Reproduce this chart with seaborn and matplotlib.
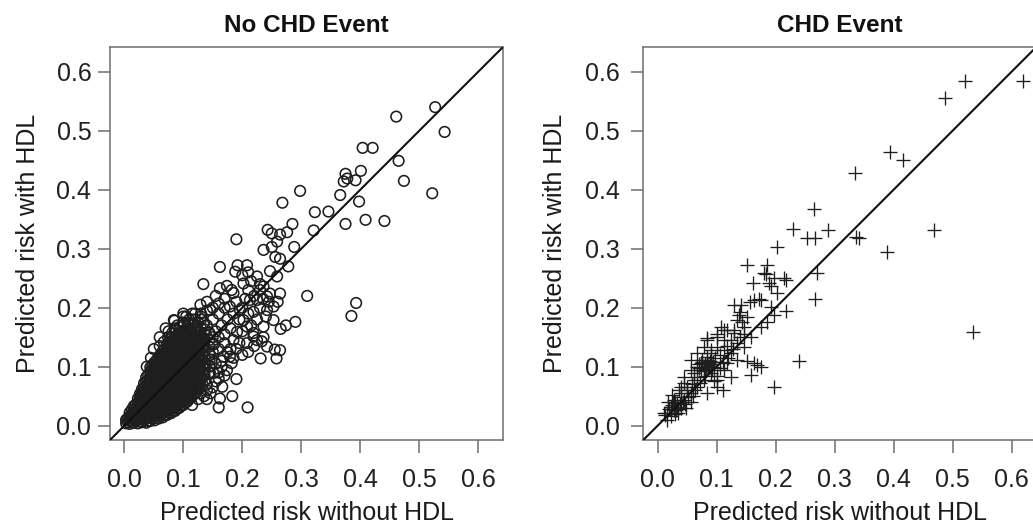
import matplotlib
matplotlib.use("Agg")
import matplotlib.pyplot as plt
import pandas as pd
import seaborn as sns

# axis ticks shared by both panels
tick_values = [0.0, 0.1, 0.2, 0.3, 0.4, 0.5, 0.6]
tick_labels = ["0.0", "0.1", "0.2", "0.3", "0.4", "0.5", "0.6"]
panel_titles = ["No CHD Event", "CHD Event"]
x_label = "Predicted risk without HDL"
y_label = "Predicted risk with HDL"

# No CHD event: the individually visible circles (risk without HDL, risk with HDL)
no_chd_x = [
    0.543, 0.527, 0.461, 0.404, 0.421, 0.465, 0.474, 0.522, 0.401, 0.375, 0.378, 0.372, 0.392,
    0.366, 0.398, 0.298, 0.268, 0.323, 0.346, 0.409, 0.441, 0.375, 0.321, 0.285, 0.243, 0.250,
    0.264, 0.276, 0.259, 0.236, 0.250, 0.288, 0.190, 0.256, 0.264, 0.278, 0.162, 0.208, 0.192,
    0.225, 0.247, 0.259, 0.134, 0.174, 0.236, 0.247, 0.264, 0.310, 0.393, 0.385, 0.253, 0.290,
    0.274, 0.265, 0.233, 0.255, 0.258, 0.231, 0.208, 0.219, 0.190, 0.183, 0.209, 0.160, 0.162,
    0.166, 0.160, 0.179, 0.084, 0.100, 0.191, 0.202, 0.219, 0.225, 0.188, 0.202, 0.162, 0.182,
    0.230, 0.242, 0.129, 0.146, 0.160, 0.179, 0.196, 0.213, 0.242, 0.208, 0.219, 0.236, 0.253,
    0.185, 0.225, 0.242, 0.236, 0.264, 0.168, 0.182, 0.146, 0.129, 0.151, 0.174,
    0.120, 0.130, 0.140, 0.150, 0.155, 0.165, 0.170, 0.175, 0.180, 0.185, 0.195, 0.200, 0.205,
    0.210, 0.170, 0.160, 0.150, 0.140, 0.155, 0.170, 0.185, 0.190, 0.210, 0.220, 0.235, 0.230,
    0.215, 0.200, 0.195, 0.180, 0.170, 0.160, 0.150, 0.145, 0.155, 0.165, 0.170, 0.155, 0.145,
    0.140, 0.130, 0.135, 0.110, 0.125, 0.135, 0.145, 0.160, 0.175, 0.185, 0.190, 0.200, 0.210,
    0.220, 0.225, 0.240, 0.245, 0.260, 0.230, 0.215, 0.200, 0.210, 0.090, 0.100, 0.105, 0.115,
    0.120, 0.130, 0.095, 0.110, 0.125, 0.075, 0.085, 0.140, 0.150, 0.160, 0.165, 0.135, 0.125,
    0.115, 0.130, 0.140,
    0.060, 0.067, 0.074, 0.081, 0.088, 0.095, 0.102, 0.109, 0.116, 0.123, 0.130, 0.137, 0.144,
    0.150, 0.152, 0.150, 0.148, 0.145, 0.070, 0.085, 0.100, 0.115, 0.130, 0.140, 0.060, 0.050,
    0.045, 0.038,
]
no_chd_y = [
    0.498, 0.540, 0.524, 0.471, 0.471, 0.449, 0.415, 0.394, 0.432, 0.427, 0.419, 0.414, 0.416,
    0.391, 0.380, 0.398, 0.378, 0.362, 0.363, 0.349, 0.347, 0.342, 0.331, 0.342, 0.332, 0.326,
    0.324, 0.328, 0.312, 0.298, 0.303, 0.303, 0.316, 0.286, 0.283, 0.270, 0.269, 0.272, 0.272,
    0.253, 0.262, 0.253, 0.240, 0.237, 0.236, 0.224, 0.224, 0.220, 0.208, 0.186, 0.202, 0.176,
    0.170, 0.164, 0.143, 0.129, 0.114, 0.114, 0.140, 0.151, 0.079, 0.050, 0.031, 0.031, 0.046,
    0.066, 0.080, 0.117, 0.179, 0.190, 0.159, 0.179, 0.193, 0.213, 0.261, 0.241, 0.233, 0.230,
    0.230, 0.219, 0.205, 0.196, 0.207, 0.202, 0.196, 0.213, 0.196, 0.168, 0.157, 0.168, 0.179,
    0.145, 0.145, 0.134, 0.150, 0.128, 0.117, 0.106, 0.055, 0.066, 0.089, 0.094,
    0.180, 0.190, 0.170, 0.180, 0.160, 0.170, 0.155, 0.180, 0.165, 0.190, 0.180, 0.200, 0.215,
    0.190, 0.200, 0.190, 0.200, 0.210, 0.220, 0.215, 0.225, 0.210, 0.230, 0.220, 0.215, 0.200,
    0.170, 0.160, 0.140, 0.130, 0.140, 0.130, 0.140, 0.120, 0.105, 0.100, 0.085, 0.075, 0.090,
    0.070, 0.080, 0.100, 0.180, 0.160, 0.175, 0.155, 0.150, 0.125, 0.115, 0.130, 0.120, 0.125,
    0.135, 0.180, 0.185, 0.210, 0.210, 0.240, 0.245, 0.255, 0.260, 0.170, 0.175, 0.185, 0.180,
    0.190, 0.185, 0.160, 0.165, 0.175, 0.160, 0.165, 0.060, 0.065, 0.090, 0.110, 0.050, 0.045,
    0.035, 0.055, 0.045,
    0.135, 0.142, 0.150, 0.157, 0.163, 0.168, 0.172, 0.172, 0.170, 0.168, 0.165, 0.163, 0.158,
    0.150, 0.138, 0.125, 0.112, 0.100, 0.165, 0.178, 0.185, 0.190, 0.180, 0.195, 0.150, 0.130,
    0.115, 0.100,
]

# No CHD event: the dense cloud near the origin, read column by column
cloud_col_x = [
    0.003, 0.009, 0.016, 0.023, 0.030, 0.037, 0.044, 0.051, 0.058, 0.065, 0.072,
    0.079, 0.086, 0.093, 0.100, 0.107, 0.114, 0.121, 0.128, 0.136, 0.144,
    0.006, 0.0125, 0.0195, 0.0265, 0.0335, 0.0405, 0.0475, 0.0545, 0.0615, 0.0685,
    0.0755, 0.0825, 0.0895, 0.0965, 0.1035, 0.1105, 0.1175, 0.1245, 0.132,
]
cloud_col_y = [
    [0.004, 0.010],
    [0.003, 0.009, 0.016, 0.022],
    [0.005, 0.012, 0.019, 0.026, 0.033],
    [0.004, 0.011, 0.018, 0.025, 0.032, 0.039, 0.046],
    [0.006, 0.013, 0.020, 0.027, 0.034, 0.041, 0.048, 0.055, 0.062],
    [0.005, 0.012, 0.019, 0.026, 0.033, 0.040, 0.047, 0.054, 0.061, 0.068, 0.075, 0.082],
    [0.008, 0.015, 0.022, 0.029, 0.036, 0.043, 0.050, 0.057, 0.064, 0.071, 0.078, 0.085,
     0.092, 0.099],
    [0.009, 0.016, 0.023, 0.030, 0.037, 0.044, 0.051, 0.058, 0.065, 0.072, 0.079, 0.086,
     0.093, 0.100, 0.107],
    [0.012, 0.019, 0.026, 0.033, 0.040, 0.047, 0.054, 0.061, 0.068, 0.075, 0.082, 0.089,
     0.096, 0.103, 0.110, 0.117],
    [0.014, 0.021, 0.028, 0.035, 0.042, 0.049, 0.056, 0.063, 0.070, 0.077, 0.084, 0.091,
     0.098, 0.105, 0.112, 0.119, 0.126],
    [0.018, 0.025, 0.032, 0.039, 0.046, 0.053, 0.060, 0.067, 0.074, 0.081, 0.088, 0.095,
     0.102, 0.109, 0.116, 0.123, 0.130, 0.137],
    [0.021, 0.028, 0.035, 0.042, 0.049, 0.056, 0.063, 0.070, 0.077, 0.084, 0.091, 0.098,
     0.105, 0.112, 0.119, 0.126, 0.133, 0.140, 0.147],
    [0.025, 0.032, 0.039, 0.046, 0.053, 0.060, 0.067, 0.074, 0.081, 0.088, 0.095, 0.102,
     0.109, 0.116, 0.123, 0.130, 0.137, 0.144, 0.151],
    [0.030, 0.037, 0.044, 0.051, 0.058, 0.065, 0.072, 0.079, 0.086, 0.093, 0.100, 0.107,
     0.114, 0.121, 0.128, 0.135, 0.142, 0.149, 0.156],
    [0.035, 0.042, 0.049, 0.056, 0.063, 0.070, 0.077, 0.084, 0.091, 0.098, 0.105, 0.112,
     0.119, 0.126, 0.133, 0.140, 0.147, 0.154, 0.161],
    [0.041, 0.048, 0.055, 0.062, 0.069, 0.076, 0.083, 0.090, 0.097, 0.104, 0.111, 0.118,
     0.125, 0.132, 0.139, 0.146, 0.153, 0.160],
    [0.048, 0.055, 0.062, 0.069, 0.076, 0.083, 0.090, 0.097, 0.104, 0.111, 0.118, 0.125,
     0.132, 0.139, 0.146, 0.153, 0.160],
    [0.055, 0.063, 0.071, 0.079, 0.087, 0.095, 0.103, 0.111, 0.119, 0.127, 0.135, 0.143,
     0.151, 0.159],
    [0.064, 0.073, 0.082, 0.091, 0.100, 0.109, 0.118, 0.127, 0.136, 0.145, 0.154],
    [0.076, 0.086, 0.096, 0.106, 0.116, 0.126, 0.136, 0.146, 0.156],
    [0.090, 0.101, 0.112, 0.123, 0.134, 0.145],
    # in-between columns
    [0.006, 0.012],
    [0.006, 0.013, 0.020, 0.027],
    [0.008, 0.015, 0.022, 0.029, 0.036],
    [0.007, 0.014, 0.021, 0.028, 0.035, 0.042, 0.049, 0.054],
    [0.009, 0.016, 0.023, 0.030, 0.037, 0.044, 0.051, 0.058, 0.065, 0.072],
    [0.008, 0.015, 0.022, 0.029, 0.036, 0.043, 0.050, 0.057, 0.064, 0.071, 0.078, 0.086],
    [0.012, 0.019, 0.026, 0.033, 0.040, 0.047, 0.054, 0.061, 0.068, 0.075, 0.082, 0.089,
     0.096, 0.103],
    [0.013, 0.020, 0.027, 0.034, 0.041, 0.048, 0.055, 0.062, 0.069, 0.076, 0.083, 0.090,
     0.097, 0.104, 0.111],
    [0.016, 0.023, 0.030, 0.037, 0.044, 0.051, 0.058, 0.065, 0.072, 0.079, 0.086, 0.093,
     0.100, 0.107, 0.114, 0.121],
    [0.018, 0.025, 0.032, 0.039, 0.046, 0.053, 0.060, 0.067, 0.074, 0.081, 0.088, 0.095,
     0.102, 0.109, 0.116, 0.123, 0.130],
    [0.022, 0.029, 0.036, 0.043, 0.050, 0.057, 0.064, 0.071, 0.078, 0.085, 0.092, 0.099,
     0.106, 0.113, 0.120, 0.127, 0.134, 0.141],
    [0.025, 0.032, 0.039, 0.046, 0.053, 0.060, 0.067, 0.074, 0.081, 0.088, 0.095, 0.102,
     0.109, 0.116, 0.123, 0.130, 0.137, 0.144],
    [0.029, 0.036, 0.043, 0.050, 0.057, 0.064, 0.071, 0.078, 0.085, 0.092, 0.099, 0.106,
     0.113, 0.120, 0.127, 0.134, 0.141, 0.148, 0.153],
    [0.034, 0.041, 0.048, 0.055, 0.062, 0.069, 0.076, 0.083, 0.090, 0.097, 0.104, 0.111,
     0.118, 0.125, 0.132, 0.139, 0.146, 0.153],
    [0.039, 0.046, 0.053, 0.060, 0.067, 0.074, 0.081, 0.088, 0.095, 0.102, 0.109, 0.116,
     0.123, 0.130, 0.137, 0.144, 0.151, 0.158],
    [0.046, 0.053, 0.060, 0.067, 0.074, 0.081, 0.088, 0.095, 0.102, 0.109, 0.116, 0.123,
     0.130, 0.137, 0.144, 0.151, 0.158],
    [0.053, 0.060, 0.067, 0.074, 0.081, 0.088, 0.095, 0.102, 0.109, 0.116, 0.123, 0.130,
     0.137, 0.144, 0.151],
    [0.062, 0.071, 0.080, 0.089, 0.098, 0.107, 0.116, 0.125, 0.134, 0.143, 0.152],
    [0.071, 0.081, 0.091, 0.101, 0.111, 0.121, 0.131, 0.141, 0.151],
]

# CHD event (plus markers)
chd_x = [
    0.619, 0.521, 0.488, 0.394, 0.416, 0.334, 0.265, 0.230, 0.288, 0.253, 0.267, 0.336, 0.341,
    0.468, 0.389, 0.202, 0.152, 0.186, 0.183, 0.197, 0.214, 0.189, 0.162, 0.270, 0.203, 0.172,
    0.157, 0.141, 0.129, 0.267, 0.218, 0.197, 0.186, 0.138, 0.143, 0.129, 0.112, 0.146, 0.158,
    0.535, 0.101, 0.084, 0.240, 0.152, 0.163, 0.169, 0.159, 0.197,
    0.180, 0.217, 0.192, 0.163, 0.175, 0.140, 0.152, 0.135, 0.146, 0.140, 0.192, 0.175, 0.107,
    0.118, 0.129, 0.101, 0.112, 0.124, 0.135, 0.146, 0.084, 0.078, 0.090, 0.112, 0.124, 0.135,
    0.118, 0.112, 0.124, 0.101, 0.110, 0.175,
    0.073, 0.056, 0.067, 0.084, 0.056, 0.044, 0.061, 0.050, 0.039, 0.027, 0.022, 0.010, 0.016,
    0.033, 0.044, 0.056, 0.067, 0.078, 0.090, 0.101, 0.084, 0.084, 0.090, 0.101, 0.073, 0.067,
    0.033, 0.039, 0.050, 0.016, 0.022, 0.028, 0.035, 0.040, 0.046, 0.030, 0.025, 0.078, 0.082,
    0.088, 0.076, 0.070, 0.062, 0.058, 0.064, 0.072, 0.080, 0.095, 0.098, 0.092, 0.052, 0.048,
    0.057, 0.060, 0.040, 0.045, 0.036, 0.020, 0.013, 0.018, 0.024, 0.030, 0.105, 0.110, 0.120,
    0.128, 0.118, 0.105, 0.100, 0.095,
    0.080, 0.086, 0.075, 0.090, 0.083, 0.070, 0.066, 0.079, 0.087, 0.094, 0.028, 0.034, 0.026,
    0.038, 0.043, 0.031,
]
chd_y = [
    0.584, 0.584, 0.556, 0.464, 0.451, 0.429, 0.368, 0.334, 0.332, 0.319, 0.319, 0.320, 0.318,
    0.332, 0.295, 0.303, 0.272, 0.272, 0.257, 0.250, 0.250, 0.242, 0.242, 0.259, 0.225, 0.215,
    0.210, 0.205, 0.205, 0.215, 0.194, 0.188, 0.176, 0.188, 0.176, 0.162, 0.162, 0.156, 0.151,
    0.159, 0.156, 0.148, 0.110, 0.110, 0.106, 0.103, 0.086, 0.066,
    0.258, 0.247, 0.236, 0.213, 0.213, 0.193, 0.185, 0.179, 0.168, 0.151, 0.202, 0.168, 0.168,
    0.162, 0.157, 0.151, 0.145, 0.145, 0.140, 0.134, 0.145, 0.134, 0.128, 0.128, 0.123, 0.111,
    0.106, 0.094, 0.083, 0.077, 0.060, 0.100,
    0.106, 0.111, 0.123, 0.117, 0.094, 0.083, 0.077, 0.066, 0.055, 0.044, 0.032, 0.021, 0.010,
    0.032, 0.044, 0.055, 0.066, 0.077, 0.089, 0.066, 0.055, 0.106, 0.123, 0.134, 0.094, 0.083,
    0.038, 0.049, 0.060, 0.021, 0.016, 0.026, 0.022, 0.030, 0.036, 0.040, 0.035, 0.100, 0.096,
    0.110, 0.112, 0.098, 0.090, 0.070, 0.060, 0.072, 0.085, 0.100, 0.115, 0.095, 0.048, 0.030,
    0.040, 0.050, 0.065, 0.072, 0.060, 0.028, 0.018, 0.040, 0.052, 0.020, 0.120, 0.108, 0.115,
    0.130, 0.135, 0.098, 0.085, 0.075,
    0.104, 0.102, 0.108, 0.105, 0.112, 0.104, 0.100, 0.093, 0.099, 0.108, 0.032, 0.028, 0.040,
    0.036, 0.040, 0.026,
]

AXIS_LIM = (-0.0243, 0.642)
FRAME = "#6e6e6e"
INK = "#1e1e1e"


def build_frames():
    cloud_x, cloud_y = [], []
    for x, ys in zip(cloud_col_x, cloud_col_y):
        cloud_x.extend([x] * len(ys))
        cloud_y.extend(ys)
    no_chd = pd.DataFrame({"without": cloud_x + no_chd_x, "with": cloud_y + no_chd_y})
    chd = pd.DataFrame({"without": chd_x, "with": chd_y})
    return no_chd, chd


def style_axis(ax, title, ypad):
    ax.set_xlim(*AXIS_LIM)
    ax.set_ylim(*AXIS_LIM)
    ax.set_xticks(tick_values, tick_labels)
    ax.set_yticks(tick_values, tick_labels)
    ax.tick_params(axis="both", direction="out", length=9, width=1.1, color=FRAME,
                   labelsize=18, labelcolor="#222222")
    ax.tick_params(axis="x", pad=11)
    ax.tick_params(axis="y", pad=ypad)
    for spine in ax.spines.values():
        spine.set_visible(True)
        spine.set_color(FRAME)
        spine.set_linewidth(1.1)
    ax.set_xlabel(x_label, fontsize=18, color="#1a1a1a")
    ax.set_ylabel(y_label, fontsize=18, color="#1a1a1a")
    ax.axline((0, 0), slope=1, color="#111111", linewidth=1.5, zorder=3)
    ax.set_title(title, fontsize=17.5, fontweight="bold", pad=11, color="#111111")


def main():
    sns.set_style("ticks")
    plt.rcParams["font.family"] = ["Liberation Sans", "DejaVu Sans"]

    no_chd, chd = build_frames()

    fig = plt.figure(figsize=(10.33, 5.23), dpi=100)
    w, h = 393 / 1033, 393 / 523
    bottom = 1 - 440 / 523
    ax1 = fig.add_axes([110 / 1033, bottom, w, h])
    ax2 = fig.add_axes([643.3 / 1033, bottom, w, h])

    sns.scatterplot(data=no_chd, x="without", y="with", ax=ax1, marker="o", s=58,
                    facecolor="none", edgecolor=INK, linewidth=1.15, legend=False)
    sns.scatterplot(data=chd, x="without", y="with", ax=ax2, marker="+", s=100,
                    color=INK, linewidth=0.95, legend=False)

    style_axis(ax1, panel_titles[0], 4.5)
    style_axis(ax2, panel_titles[1], 8)

    ax1.yaxis.set_label_coords(-0.178, 0.5)
    ax2.yaxis.set_label_coords(-0.194, 0.5)
    ax1.xaxis.set_label_coords(0.5, -0.155)
    ax2.xaxis.set_label_coords(0.5, -0.155)

    fig.savefig("out.png", dpi=100)


if __name__ == "__main__":
    main()
